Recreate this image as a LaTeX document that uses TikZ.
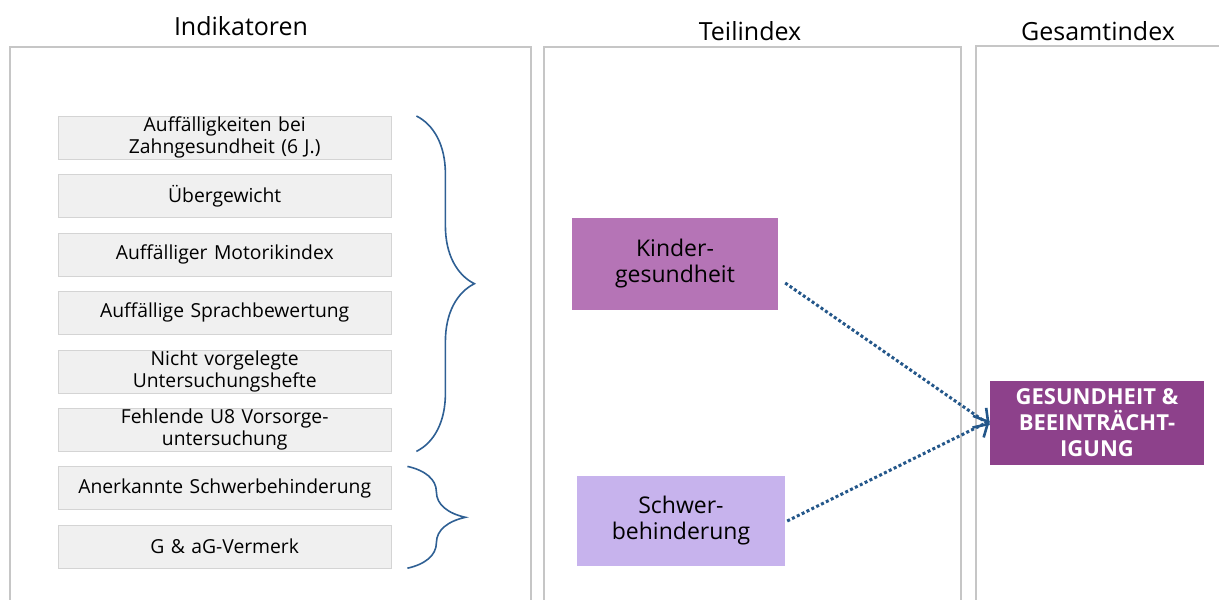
\documentclass[tikz,border=0pt]{standalone}
\usepackage{fontspec}
\setmainfont{Open Sans}
\usepackage{xcolor}
\usepackage{tikz}
\usetikzlibrary{positioning,arrows.meta,decorations.pathreplacing}

\definecolor{panelgray}{HTML}{C6C6C6}
\definecolor{boxfill}{HTML}{F0F0F0}
\definecolor{boxline}{HTML}{D4D4D4}
\definecolor{bracecol}{HTML}{2F6094}
\definecolor{arrowcol}{HTML}{24578A}
\definecolor{kindercol}{HTML}{B574B6}
\definecolor{schwercol}{HTML}{C7B3ED}
\definecolor{gesamtcol}{HTML}{8D418B}

\begin{document}
\begin{tikzpicture}[
    x=1pt, y=-1pt,
    node distance = 15pt,
    panel/.style = {
        draw=panelgray,
        line width=1.6pt
    },
    titlestyle/.style = {
        font=\fontsize{25}{28}\selectfont
    },
    indbox/.style = {
        draw=boxline,
        fill=boxfill,
        minimum width=333pt,
        minimum height=43pt,
        inner sep=0pt,
        text width=330pt,
        align=center,
        font=\fontsize{19.3}{22}\selectfont
    },
    idxbox/.style = {
        inner sep=0pt,
        align=center,
        font=\fontsize{23}{26}\selectfont
    },
    bracestyle/.style = {
        decorate,
        decoration={brace, amplitude=58pt},
        line width=1.6pt,
        draw=bracecol
    },
    linkstyle/.style = {
        draw=arrowcol,
        line width=3pt,
        dash pattern=on 3pt off 2.4pt,
        -{Straight Barb[length=11pt,width=24pt,line width=2.6pt]}
    }
]
\useasboundingbox (0,0) rectangle (1219,600);

% --- Spalten ---
\draw[panel] (10,600) -- (10,47) -- (531,47) -- (531,600);
\draw[panel] (544,600) -- (544,47) -- (961,47) -- (961,600);
\draw[panel] (976,600) -- (976,46) -- (1225,46);

\node[titlestyle] (tInd) at (241,26) {Indikatoren};
\node[titlestyle] (tTeil) at (750,31) {Teilindex};
\node[titlestyle] (tGesamt) at (1098,31) {Gesamtindex};

% --- Indikatoren ---
\node[indbox, anchor=north west] (ind1) at (58,116) {Auffälligkeiten bei\\Zahngesundheit (6 J.)};
\node[indbox, below=of ind1] (ind2) {Übergewicht};
\node[indbox, below=of ind2] (ind3) {Auffälliger Motorikindex};
\node[indbox, below=of ind3] (ind4) {Auffällige Sprachbewertung};
\node[indbox, below=of ind4] (ind5) {Nicht vorgelegte\\Untersuchungshefte};
\node[indbox, below=of ind5] (ind6) {Fehlende U8 Vorsorge-\\untersuchung};
\node[indbox, below=of ind6] (ind7) {Anerkannte Schwerbehinderung};
\node[indbox, below=of ind7] (ind8) {G \& aG-Vermerk};

% --- Klammern ---
\draw[bracestyle] ([xshift=25pt]ind1.north east) -- ([xshift=25pt]ind6.south east);
\draw[bracestyle] ([xshift=16pt]ind7.north east) -- ([xshift=16pt]ind8.south east);

% --- Teilindizes ---
\node[idxbox, fill=kindercol, minimum width=206pt, minimum height=92pt] (kinder) at (675,264) {Kinder-\\gesundheit};
\node[idxbox, fill=schwercol, minimum width=208pt, minimum height=90pt] (schwer) at (681,521) {Schwer-\\behinderung};

% --- Gesamtindex ---
\node[idxbox, fill=gesamtcol, text=white, minimum width=214pt, minimum height=84pt,
      font=\fontsize{22}{26}\selectfont\bfseries] (gesamt) at (1097,423) {GESUNDHEIT \&\\BEEINTRÄCHT-\\IGUNG};

% --- Pfeile ---
\draw[linkstyle] ([xshift=7pt,yshift=-19pt]kinder.east) -- ([yshift=-2pt]gesamt.west);
\draw[linkstyle] ([xshift=2pt]schwer.east) -- ([yshift=2pt]gesamt.west);

\end{tikzpicture}
\end{document}
